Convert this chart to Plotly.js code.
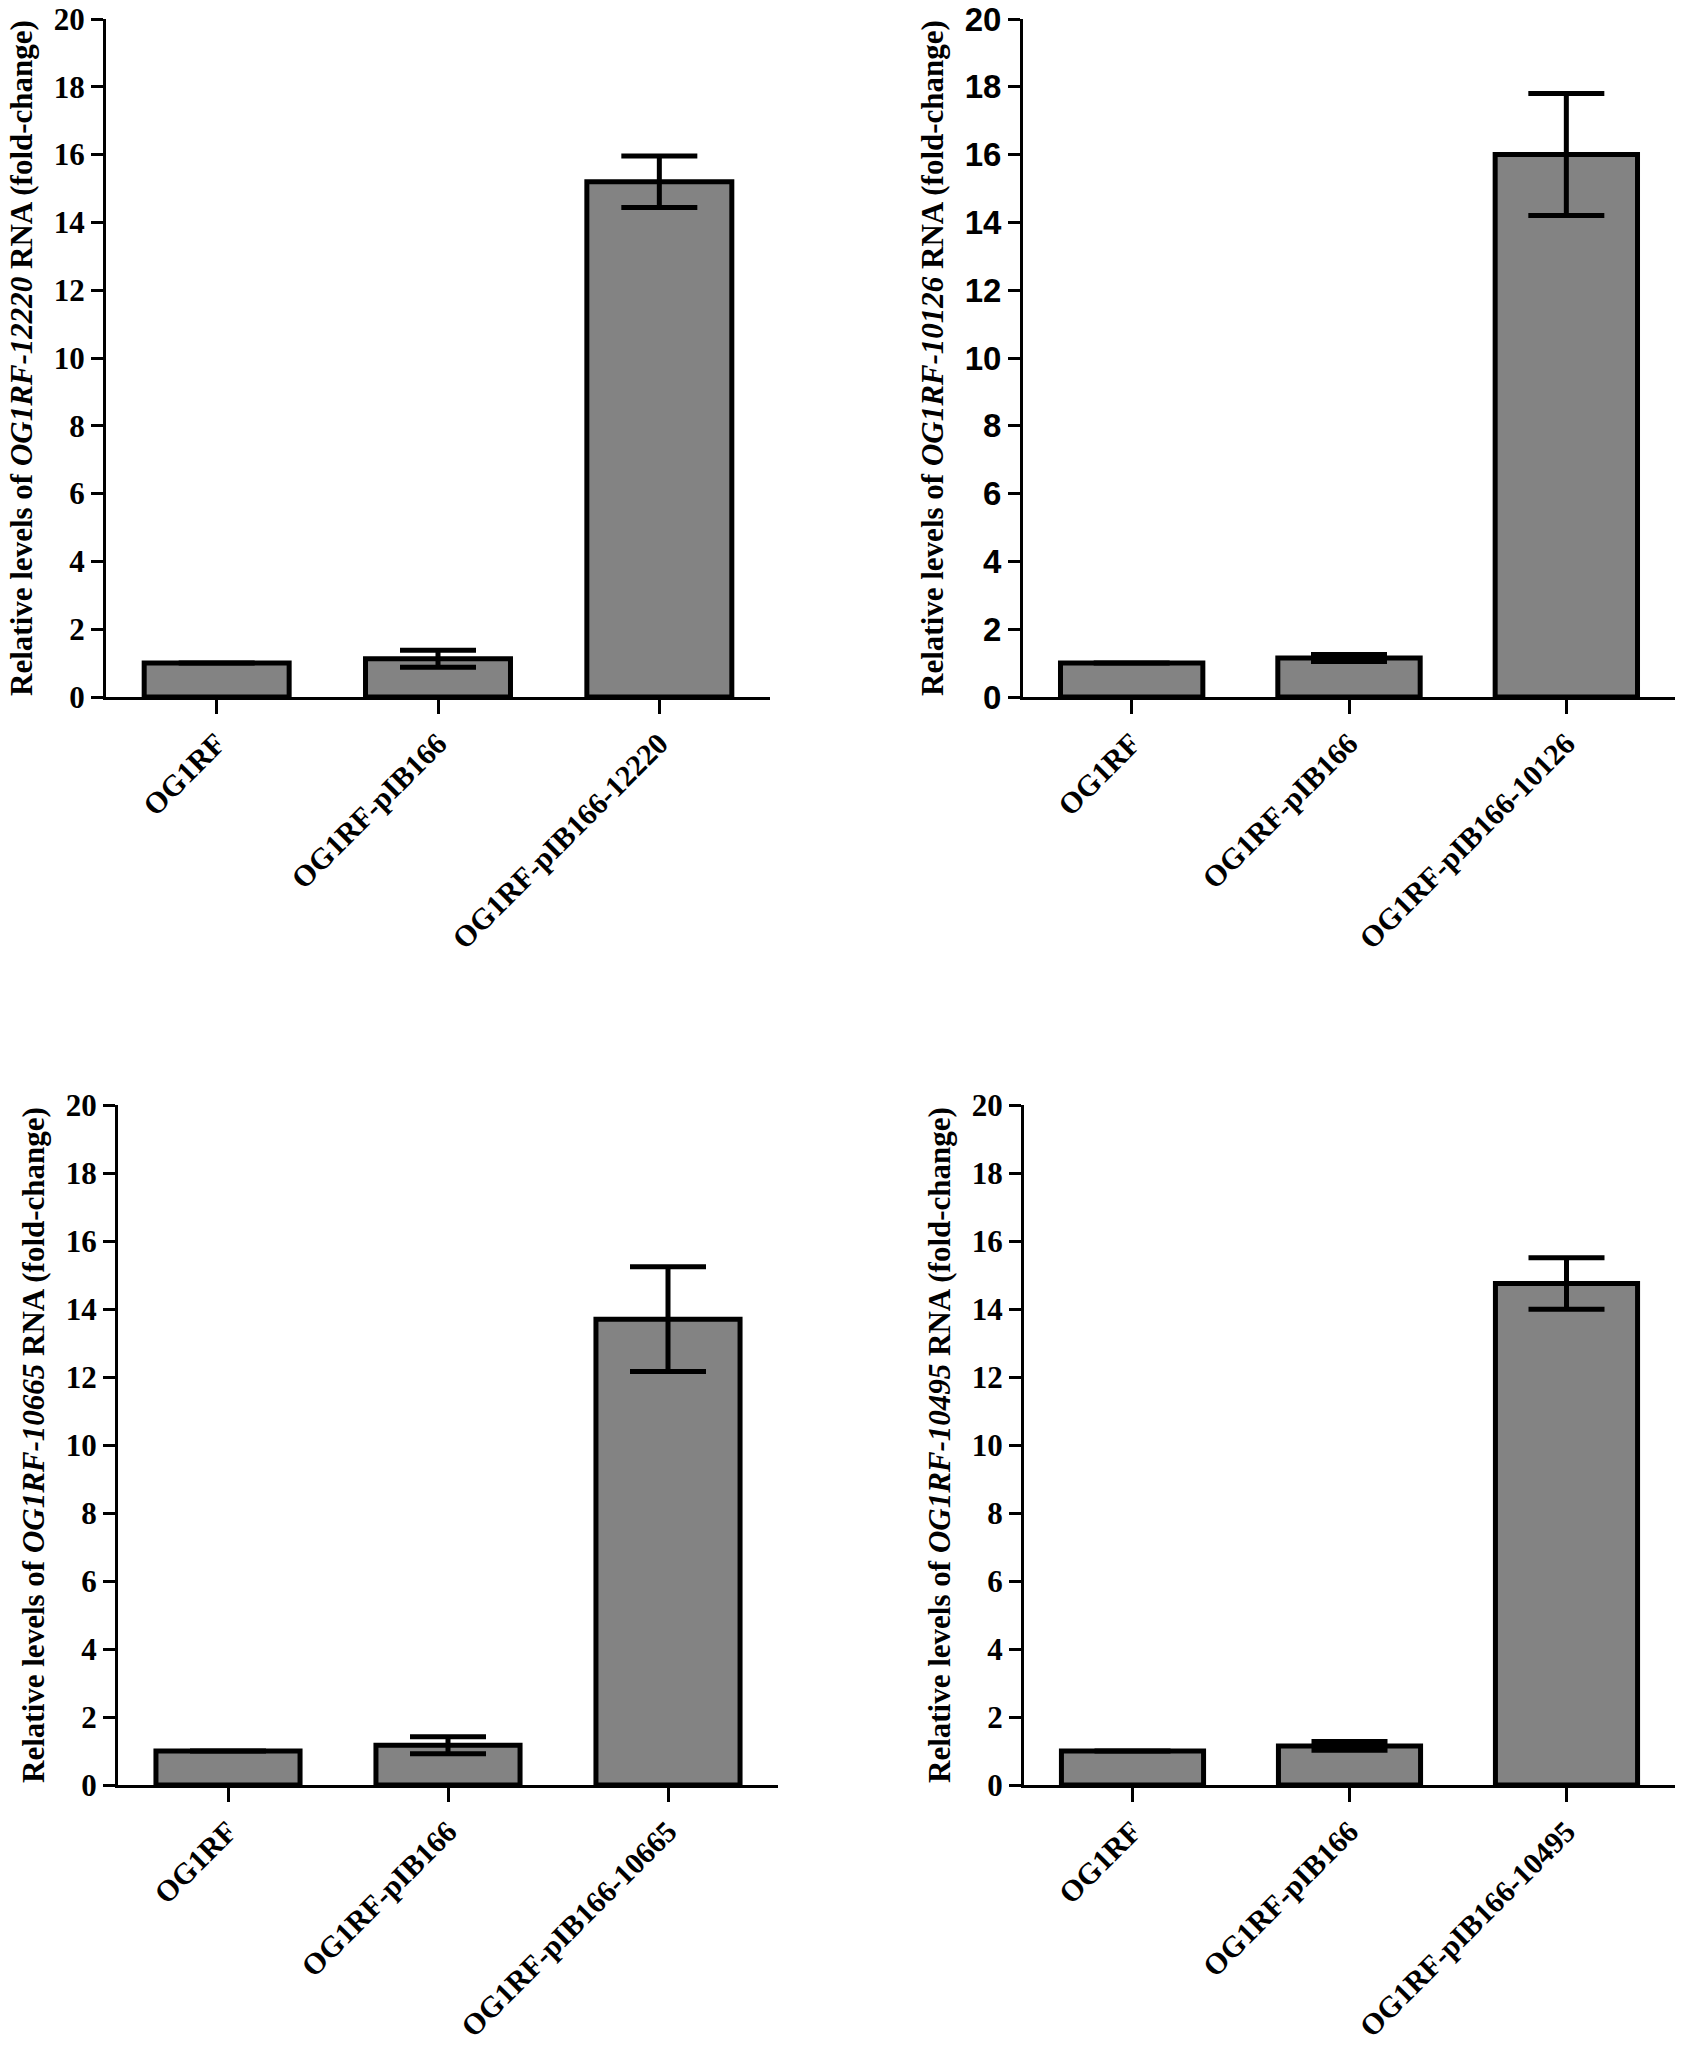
<!DOCTYPE html>
<html>
<head>
<meta charset="utf-8">
<script src="https://cdn.plot.ly/plotly-3.0.1.min.js"></script>
<style>
  html, body { margin: 0; padding: 0; background: #fff; }
  #chart { width: 1700px; height: 2046px; }
</style>
</head>
<body>
<div id="chart"></div>
<script>
// categories per panel
const cats12220 = ['OG1RF', 'OG1RF-pIB166', 'OG1RF-pIB166-12220'];
const cats10126 = ['OG1RF', 'OG1RF-pIB166', 'OG1RF-pIB166-10126'];
const cats10665 = ['OG1RF', 'OG1RF-pIB166', 'OG1RF-pIB166-10665'];
const cats10495 = ['OG1RF', 'OG1RF-pIB166', 'OG1RF-pIB166-10495'];

// fold-change means and error bars
const mean12220 = [1.0, 1.13, 15.2];
const err12220  = [0, 0.25, 0.76];
const mean10126 = [1.0, 1.15, 16.0];
const err10126  = [0, 0.10, 1.8];
const mean10665 = [1.0, 1.17, 13.7];
const err10665  = [0, 0.25, 1.54];
const mean10495 = [1.0, 1.15, 14.75];
const err10495  = [0, 0.13, 0.76];

const yTicks = [0, 2, 4, 6, 8, 10, 12, 14, 16, 18, 20];

const SERIF = 'Liberation Serif, Times New Roman, serif';
const SANS = 'Liberation Sans, Arial, sans-serif';

function barTrace(cats, means, errs, n) {
  return {
    type: 'bar', x: cats, y: means,
    xaxis: 'x' + (n === 1 ? '' : n), yaxis: 'y' + (n === 1 ? '' : n),
    marker: { color: '#838383', line: { color: '#000', width: 5 } },
    error_y: { type: 'data', array: errs, visible: true, color: '#000', thickness: 5, width: 38 },
    showlegend: false, hoverinfo: 'skip'
  };
}

function xAxis(dom, anchor) {
  return {
    domain: dom, anchor: anchor, type: 'category', range: [-0.5, 2.5],
    showline: true, linecolor: '#000', linewidth: 3,
    ticks: 'outside', ticklen: 14, tickwidth: 3, tickcolor: '#000',
    tickangle: -45, showgrid: false, zeroline: false,
    tickfont: { family: SERIF, size: 30, color: '#000', weight: 'bold' }
  };
}

function yAxis(dom, anchor, gene, tickFamily, tickSize) {
  return {
    domain: dom, anchor: anchor, range: [0, 20], tickvals: yTicks,
    showline: true, linecolor: '#000', linewidth: 3,
    ticks: 'outside', ticklen: 12, tickwidth: 3, tickcolor: '#000',
    showgrid: false, zeroline: false, ticklabeloverflow: 'allow',
    tickfont: { family: tickFamily, size: tickSize, color: '#000', weight: 'bold' },
    title: {
      text: 'Relative levels of <i>' + gene + '</i> RNA (fold-change)',
      font: { family: SERIF, size: 31, color: '#000', weight: 'bold' },
      standoff: 12
    }
  };
}

const W = 1700, H = 2046;
const topY = [1 - 697 / H, 1 - 19 / H];
const botY = [1 - 1785 / H, 1 - 1105 / H];

const data = [
  barTrace(cats12220, mean12220, err12220, 1),
  barTrace(cats10126, mean10126, err10126, 2),
  barTrace(cats10665, mean10665, err10665, 3),
  barTrace(cats10495, mean10495, err10495, 4)
];

const layout = {
  width: W, height: H,
  margin: { l: 0, r: 0, t: 0, b: 0 },
  paper_bgcolor: '#fff', plot_bgcolor: '#fff',
  bargap: 0.345,
  xaxis:  xAxis([106 / W, 770 / W], 'y'),
  yaxis:  yAxis(topY, 'x', 'OG1RF-12220', SERIF, 31),
  xaxis2: xAxis([1023 / W, 1675 / W], 'y2'),
  yaxis2: yAxis(topY, 'x2', 'OG1RF-10126', SANS, 33),
  xaxis3: xAxis([118 / W, 778 / W], 'y3'),
  yaxis3: yAxis(botY, 'x3', 'OG1RF-10665', SERIF, 31),
  xaxis4: xAxis([1024 / W, 1675 / W], 'y4'),
  yaxis4: yAxis(botY, 'x4', 'OG1RF-10495', SERIF, 31)
};

Plotly.newPlot('chart', data, layout, { displayModeBar: false, staticPlot: true });
</script>
</body>
</html>
